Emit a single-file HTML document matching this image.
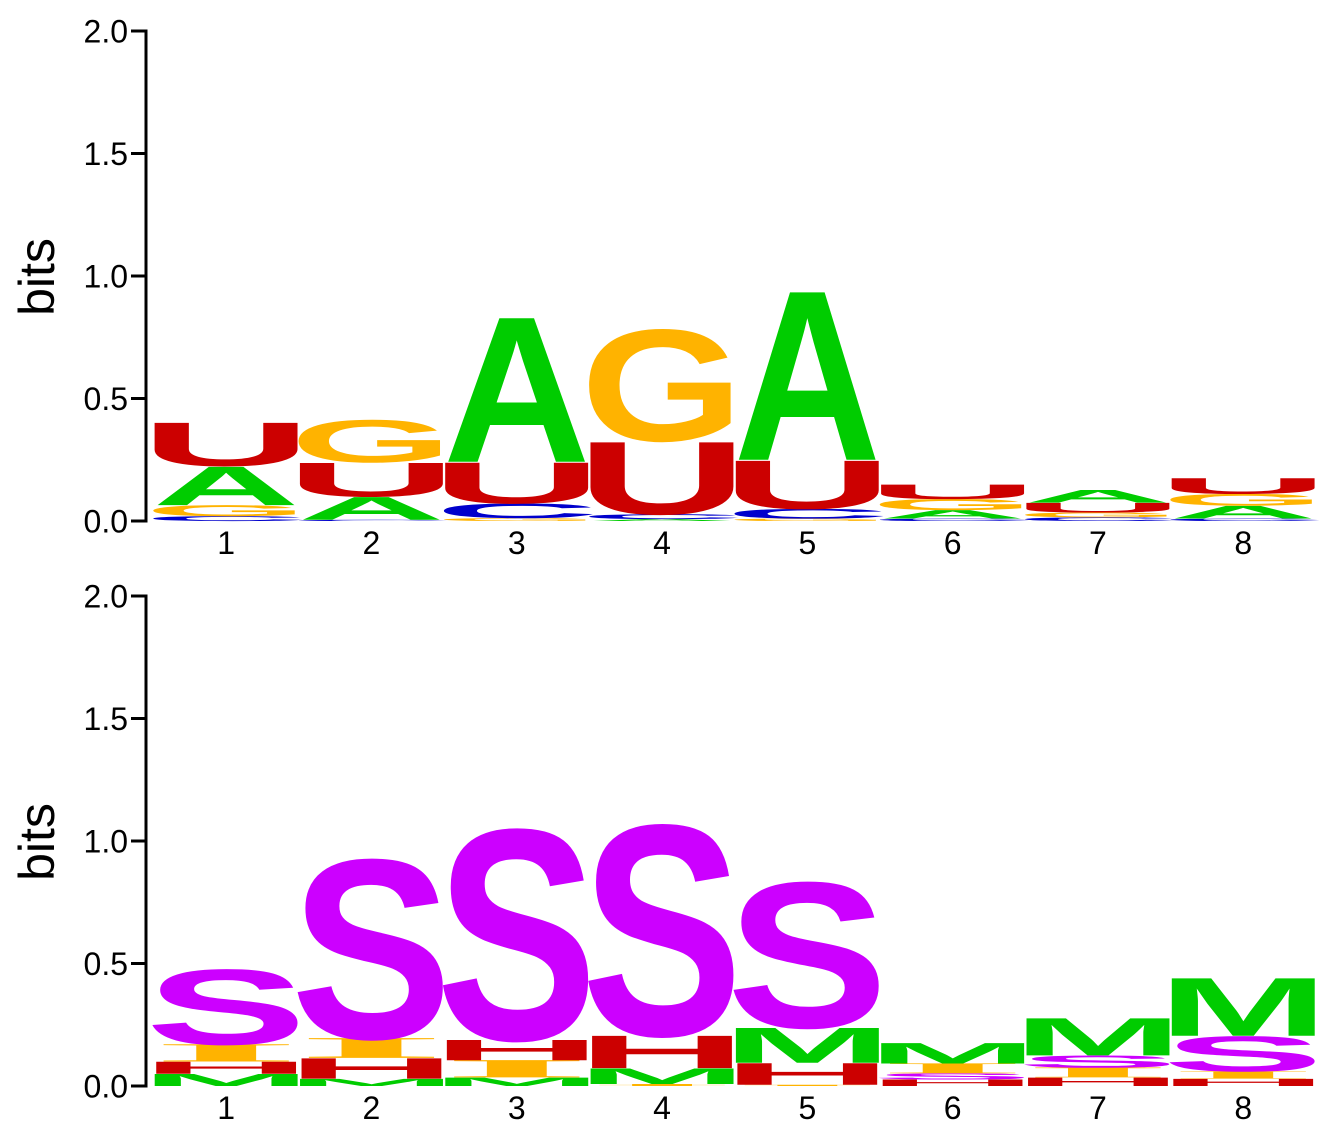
<!DOCTYPE html>
<html><head><meta charset="utf-8"><style>
html,body{margin:0;padding:0;background:#fff;}
svg{display:block;}
</style></head><body>
<svg id="chart" width="1339" height="1130" viewBox="0 0 1339 1130" xmlns="http://www.w3.org/2000/svg"></svg>
<script>
const positions = ['1','2','3','4','5','6','7','8'];
const yTicks = [0, 0.5, 1.0, 1.5, 2.0];
const yTickLabels = ['0.0','0.5','1.0','1.5','2.0'];
// top logo: letters stacked bottom to top
const topLetters = [
  ['C','G','A','U'],
  ['C','A','U','G'],
  ['G','C','U','A'],
  ['A','C','U','G'],
  ['G','C','U','A'],
  ['C','A','G','U'],
  ['C','G','U','A'],
  ['C','A','G','U']
];
const topHeights = [
  [0.02,0.045,0.16,0.18],
  [0.005,0.095,0.14,0.175],
  [0.012,0.06,0.17,0.6],
  [0.008,0.02,0.30,0.46],
  [0.01,0.04,0.2,0.7],
  [0.01,0.035,0.045,0.06],
  [0.015,0.02,0.04,0.053],
  [0.01,0.053,0.048,0.065]
];
// bottom logo
const botLetters = [
  ['M','H','I','S'],
  ['M','H','I','S'],
  ['M','I','H','S'],
  ['I','M','H','S'],
  ['I','H','M','S'],
  ['H','S','I','M'],
  ['H','I','S','M'],
  ['H','I','S','M']
];
const botHeights = [
  [0.05,0.05,0.07,0.31],
  [0.03,0.085,0.08,0.74],
  [0.035,0.07,0.085,0.87],
  [0.008,0.065,0.135,0.87],
  [0.005,0.09,0.145,0.6],
  [0.027,0.025,0.04,0.085],
  [0.035,0.04,0.05,0.155],
  [0.03,0.03,0.145,0.24]
];

const colors = {A:'#00cc00',C:'#0000cc',G:'#ffb300',U:'#cc0000',S:'#cc00ff',M:'#00cc00',H:'#cc0000',I:'#ffb300'};
const extF = {A:1.02,C:1.14,G:1.13,U:1.19,S:1.12,M:1.18,H:1.19,I:1.05};
const NS = 'http://www.w3.org/2000/svg';
const svg = document.getElementById('chart');
const PX_PER_BIT = 245;
const COL0 = 153.5, COLW = 145.3;
function xCol(i){ return COL0 + i*COLW; }

function drawPanel(baseY, letters, heights, name){
  const g = document.createElementNS(NS,'g');
  
  
  svg.appendChild(g);
  const yOf = v => baseY - v*PX_PER_BIT;
  const ax = document.createElementNS(NS,'line');
  
  
  ax.setAttribute('x1',146); ax.setAttribute('x2',146);
  ax.setAttribute('y1',yOf(2)-1.5); ax.setAttribute('y2',baseY+1.5);
  ax.setAttribute('stroke','#000'); ax.setAttribute('stroke-width',3);
  g.appendChild(ax);
  yTicks.forEach((t,k)=>{
    const tk = document.createElementNS(NS,'line');
    
    
    tk.setAttribute('x1',131); tk.setAttribute('x2',146);
    tk.setAttribute('y1',yOf(t)); tk.setAttribute('y2',yOf(t));
    tk.setAttribute('stroke','#000'); tk.setAttribute('stroke-width',3);
    g.appendChild(tk);
    const tl = document.createElementNS(NS,'text');
    
    
    tl.setAttribute('x',128); tl.setAttribute('y',yOf(t)+11.5);
    tl.setAttribute('text-anchor','end');
    tl.setAttribute('font-family','Liberation Sans, sans-serif');
    tl.setAttribute('font-size',32);
    tl.textContent = yTickLabels[k];
    g.appendChild(tl);
  });
  const yt = document.createElementNS(NS,'text');
  
  
  yt.setAttribute('transform','translate(54,'+(yOf(1)+1)+') rotate(-90)');
  yt.setAttribute('text-anchor','middle');
  yt.setAttribute('font-family','Liberation Sans, sans-serif');
  yt.setAttribute('font-size',50);
  yt.textContent = 'bits';
  g.appendChild(yt);
  positions.forEach((p,i)=>{
    const xl = document.createElementNS(NS,'text');
    
    
    xl.setAttribute('x', xCol(i)+COLW/2); xl.setAttribute('y', baseY+33);
    xl.setAttribute('text-anchor','middle');
    xl.setAttribute('font-family','Liberation Sans, sans-serif');
    xl.setAttribute('font-size',32);
    xl.textContent = p;
    g.appendChild(xl);
    let acc = 0;
    letters[i].forEach((L,j)=>{
      const h = heights[i][j];
      const bottom = yOf(acc);
      acc += h;
      const hp = h*PX_PER_BIT;
      const serif = (L==='I');
      const capH = serif ? 65 : 70.5;
      const t = document.createElementNS(NS,'text');
      
      
      t.setAttribute('font-family', serif ? 'Liberation Serif, serif' : 'Liberation Sans, sans-serif');
      t.setAttribute('font-weight','bold');
      t.setAttribute('font-size',100);
      t.setAttribute('fill', colors[L]);
      const w = COLW - 1;
      const ext = extF[L];
      t.setAttribute('x', -(w*(ext-1))/2);
      t.setAttribute('y', 0);
      t.setAttribute('textLength', w*ext);
      t.setAttribute('lengthAdjust','spacingAndGlyphs');
      t.setAttribute('transform','translate('+(xCol(i)+0.5)+','+bottom+') scale(1,'+(hp/capH)+')');
      t.textContent = L;
      g.appendChild(t);
    });
  });
}
drawPanel(521, topLetters, topHeights, 'top-logo-panel');
drawPanel(1086, botLetters, botHeights, 'bottom-logo-panel');
</script>
</body></html>
